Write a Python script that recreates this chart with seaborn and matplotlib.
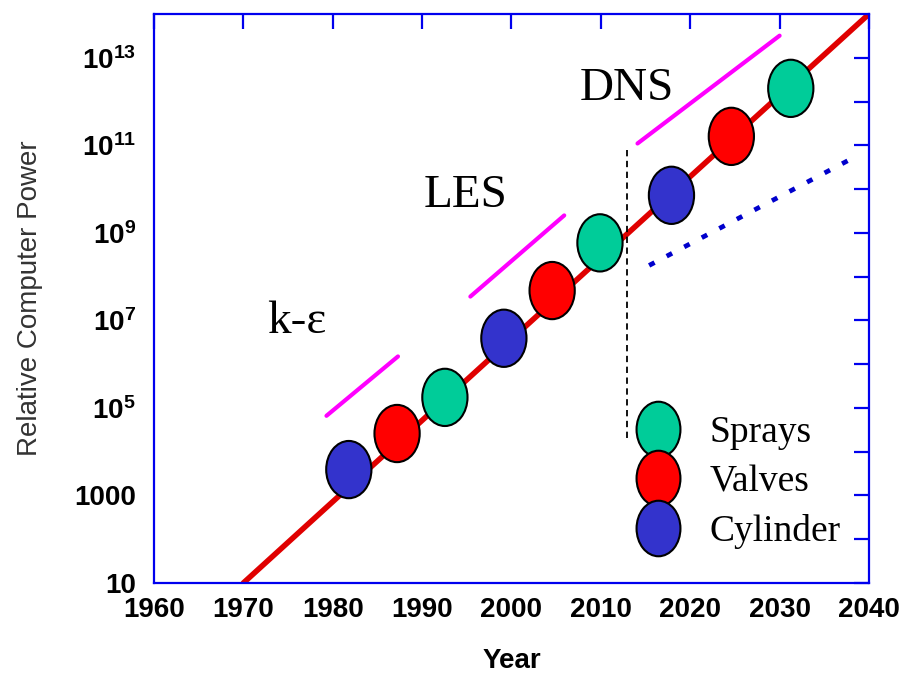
import numpy as np
import pandas as pd
import seaborn as sns
import matplotlib
matplotlib.use("Agg")
import matplotlib.pyplot as plt
from matplotlib.path import Path
from matplotlib.lines import Line2D
from matplotlib.ticker import FixedLocator, FixedFormatter, NullLocator

# ---------------- data ----------------
point_years = [1981.8, 1987.2, 1992.55, 1999.15, 2004.55, 2009.9, 2017.9, 2024.6, 2031.25]
point_power = [3.9e3, 2.6e4, 1.74e5, 3.9e6, 4.8e7, 5.9e8, 7.2e9, 1.6e11, 2.0e12]
point_app = ["Cylinder", "Valves", "Sprays", "Cylinder", "Valves", "Sprays",
             "Cylinder", "Valves", "Sprays"]

trend_years = [1970, 2040]
trend_power = [10, 1e14]

model_names = ["k-\u03b5", "LES", "DNS"]
model_seg_years = [[1979.3, 1987.3], [1995.4, 2005.9], [2014.1, 2030.0]]
model_seg_power = [[6.6e4, 1.5e6], [3.5e7, 2.5e9], [1.1e11, 3.2e13]]
model_label_years = [1976.0, 1994.9, 2012.9]
model_label_power = [5.2e6, 3.9e9, 1.07e12]

dotted_years = [2015.4, 2038.1]
dotted_power = [1.8e8, 5.0e10]

divider_year = [2012.9, 2012.9]
divider_power = [7.8e10, 2.1e4]

x_ticks = [1960, 1970, 1980, 1990, 2000, 2010, 2020, 2030, 2040]
y_tick_exps = list(range(1, 14))
y_tick_labels = ["10", "", "1000", "", "$10^{5}$", "", "$10^{7}$", "", "$10^{9}$", "",
                 "$10^{11}$", "", "$10^{13}$"]

legend_order = ["Sprays", "Valves", "Cylinder"]
app_colors = {"Sprays": "#00CC99", "Valves": "#FF0000", "Cylinder": "#3333CC"}

# ---------------- style ----------------
sns.set_style("white")
plt.rcParams["font.family"] = ["Liberation Sans", "DejaVu Sans"]
plt.rcParams["text.color"] = "black"
plt.rcParams["mathtext.fontset"] = "custom"
plt.rcParams["mathtext.rm"] = "Liberation Sans:bold"
plt.rcParams["mathtext.it"] = "Liberation Sans:bold"
plt.rcParams["mathtext.bf"] = "Liberation Sans:bold"

BLUE = "#0000EE"
SERIF = ["Liberation Serif", "DejaVu Serif"]

fig = plt.figure(figsize=(9.02, 6.76), dpi=100)
ax = fig.add_axes([0.1707, 0.1376, 0.7927, 0.8417])
ax.set_yscale("log")

# ellipse marker
circ = Path.unit_circle()
ellipse = Path(circ.vertices * np.array([0.79, 1.0]), circ.codes)

# trend line
sns.lineplot(x=trend_years, y=trend_power, ax=ax, color="#E00000", lw=4.0,
             estimator=None, sort=False, zorder=2)

# model segments
for yrs, pw in zip(model_seg_years, model_seg_power):
    sns.lineplot(x=yrs, y=pw, ax=ax, color="#FF00FF", lw=3.0,
                 estimator=None, sort=False, zorder=2)

# dotted blue line
sns.lineplot(x=dotted_years, y=dotted_power, ax=ax, color="#0000CC", lw=3.4,
             linestyle=(0, (1.3, 2.9)), estimator=None, sort=False, zorder=2)

# dashed divider
ax.plot(divider_year, divider_power, color="black", lw=1.3,
        linestyle=(0, (3.5, 2.5)), zorder=2)

# points
df = pd.DataFrame({"year": point_years, "power": point_power, "app": point_app})
sns.scatterplot(data=df, x="year", y="power", hue="app", palette=app_colors,
                marker=ellipse, s=1700, edgecolor="black", linewidth=1.5,
                legend=False, ax=ax, zorder=3)

# model labels
for name, xx, yy in zip(model_names, model_label_years, model_label_power):
    ax.text(xx, yy, name, ha="center", va="baseline", fontsize=34,
            family=SERIF, color="black")

# axes
ax.set_xlim(1960, 2040)
ax.set_ylim(10, 1e14)
ax.xaxis.set_major_locator(FixedLocator(x_ticks))
ax.yaxis.set_major_locator(FixedLocator([10.0 ** k for k in y_tick_exps]))
ax.yaxis.set_major_formatter(FixedFormatter(y_tick_labels))
ax.yaxis.set_minor_locator(NullLocator())
ax.xaxis.set_minor_locator(NullLocator())

for sp in ax.spines.values():
    sp.set_color(BLUE)
    sp.set_linewidth(1.6)
    sp.set_visible(True)

ax.tick_params(axis="both", which="major", direction="in", length=11, width=1.6,
               color=BLUE, top=True, right=True, labelsize=20, labelcolor="black")
ax.tick_params(axis="x", pad=10)
ax.tick_params(axis="y", pad=13)
for lab in ax.get_xticklabels() + ax.get_yticklabels():
    lab.set_fontweight("bold")

ax.set_xlabel("Year", fontsize=20, fontweight="bold", color="black", labelpad=18)
ax.set_ylabel("Relative Computer Power", fontsize=20, color="#333333", labelpad=22)

# legend
handles = [Line2D([], [], marker=ellipse, ms=40, mfc=app_colors[a], mec="black",
                  mew=1.5, ls="none") for a in legend_order]
leg = ax.legend(handles, legend_order, loc="upper left", bbox_to_anchor=(0.674, 0.2944),
                frameon=False, borderpad=0, borderaxespad=0, handlelength=1.2,
                handletextpad=0.76, labelspacing=0.4, labelcolor="black",
                prop={"family": SERIF, "size": 27})

fig.savefig("out.png", dpi=100)
